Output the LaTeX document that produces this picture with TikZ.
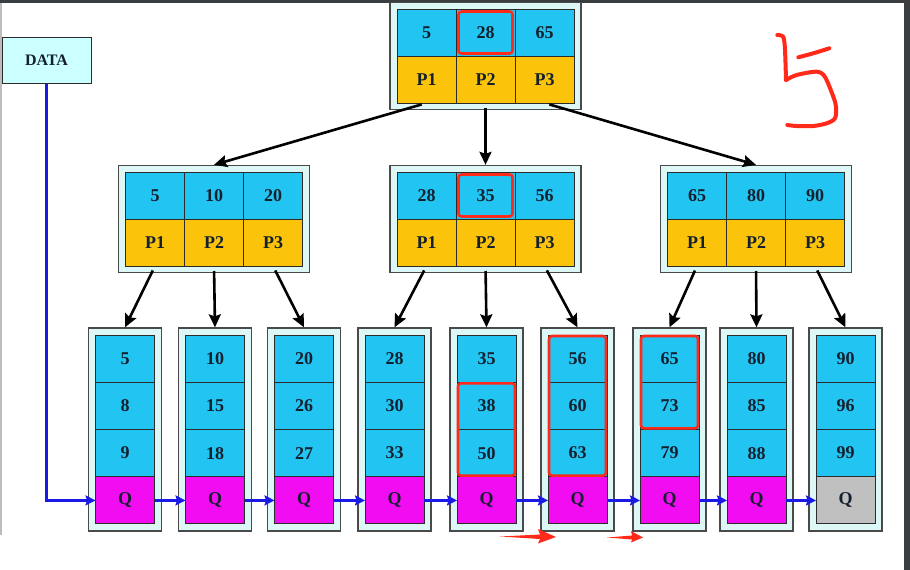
\documentclass[tikz,border=0pt]{standalone}
\usepackage{fontspec}
\setmainfont{Liberation Serif}
\usepackage{xcolor}
\usepackage{tikz}
\usetikzlibrary{arrows.meta,fit}
\definecolor{keyblue}{HTML}{22C4F2}
\definecolor{ptryellow}{HTML}{FBC40A}
\definecolor{qpink}{HTML}{F20CF2}
\definecolor{qgray}{HTML}{C0C0C0}
\definecolor{framecyan}{HTML}{DDF7F7}
\definecolor{framegray}{HTML}{4A4A4A}
\definecolor{cellline}{HTML}{2B2B2B}
\definecolor{celltext}{HTML}{14202E}
\definecolor{datacyan}{HTML}{CCFFFF}
\definecolor{linkblue}{HTML}{1A1AE6}
\definecolor{markred}{HTML}{FF2A1A}
\definecolor{edgedark}{HTML}{3A3D40}
\definecolor{edgegray}{HTML}{BDBDBD}

\tikzset{
  frame/.style={draw=framegray, fill=framecyan, line width=1.3pt, inner sep=0pt},
  cell/.style={draw=cellline, line width=0.9pt, minimum width=59pt, minimum height=47pt,
               inner sep=0pt, outer sep=0pt, text=celltext, font=\bfseries\fontsize{18}{20}\selectfont},
  keycell/.style={cell, fill=keyblue},
  ptrcell/.style={cell, fill=ptryellow},
  treearrow/.style={-{Stealth[length=13pt,width=12pt,inset=2pt]}, line width=2.6pt, shorten <=5pt},
  leaflink/.style={-{Stealth[length=10pt,width=10pt,inset=1.5pt]}, line width=2.4pt, draw=linkblue},
  redbox/.style={draw=markred, line width=2.6pt, rounded corners=3pt, inner sep=0pt}
}

\begin{document}
\begin{tikzpicture}[x=1pt,y=-1pt]
  \useasboundingbox (0,0) rectangle (910,570);
  % edges of the screenshot
  \fill[edgedark] (0,0) rectangle (910,3);
  \fill[edgedark] (904,0) rectangle (910,570);
  \fill[edgegray] (0,3) rectangle (1.5,535);

  \node[draw=cellline, fill=datacyan, line width=1pt, minimum width=89pt, minimum height=46pt,
        text=celltext, font=\bfseries\fontsize{16}{18}\selectfont] (data) at (46.5,60) {DATA};

  % root and second level
  \foreach \n/\x/\y/\a/\b/\c in {r/485.5/32.5/5/28/65, ma/214/195.5/5/10/20,
                                 mb/485.5/195.5/28/35/56, mc/756/195.5/65/80/90}{
    \node[frame, minimum width=191pt, minimum height=107pt] (\n) at (\x,\y+23.5) {};
    \node[keycell] (\n-k1) at (\x-59,\y) {\a};
    \node[keycell] (\n-k2) at (\x,\y) {\b};
    \node[keycell] (\n-k3) at (\x+59,\y) {\c};
    \node[ptrcell] (\n-p1) at (\x-59,\y+47) {P1};
    \node[ptrcell] (\n-p2) at (\x,\y+47) {P2};
    \node[ptrcell] (\n-p3) at (\x+59,\y+47) {P3};
  }

  % leaves
  \foreach \i/\x/\a/\b/\c/\q in {1/125/5/8/9/qpink, 2/215/10/15/18/qpink, 3/304/20/26/27/qpink,
                                 4/394.5/28/30/33/qpink, 5/486.5/35/38/50/qpink, 6/577.5/56/60/63/qpink,
                                 7/669.5/65/73/79/qpink, 8/756.5/80/85/88/qpink, 9/845.5/90/96/99/qgray}{
    \node[frame, minimum width=73pt, minimum height=203pt] (l\i) at (\x,429.5) {};
    \node[keycell] (l\i-a) at (\x,358.5) {\a};
    \node[keycell] (l\i-b) at (\x,405.8) {\b};
    \node[keycell] (l\i-c) at (\x,453.1) {\c};
    \node[cell, fill=\q] (l\i-q) at (\x,500.4) {Q};
  }

  % tree pointers
  \draw[treearrow] (r-p1.south) -- (ma.north);
  \draw[treearrow] (r-p2.south) -- (mb.north);
  \draw[treearrow] (r-p3.south) -- (mc.north);
  \foreach \m/\i/\j/\k in {ma/1/2/3, mb/4/5/6, mc/7/8/9}{
    \draw[treearrow] (\m-p1.south) -- (l\i.north);
    \draw[treearrow] (\m-p2.south) -- (l\j.north);
    \draw[treearrow] (\m-p3.south) -- (l\k.north);
  }

  % leaf chain
  \draw[leaflink] (data.south) |- (l1-q.west);
  \foreach \i [evaluate=\i as \j using int(\i+1)] in {1,...,8}
    \draw[leaflink] (l\i-q.east) -- (l\j-q.west);

  % red marks
  \node[redbox, fit=(r-k2), inner sep=-2.5pt] (hl1) {};
  \node[redbox, fit=(mb-k2), inner sep=-2.5pt] (hl2) {};
  \node[redbox, fit=(l5-b)(l5-c), inner sep=-1pt] (hl3) {};
  \node[redbox, fit=(l6-a)(l6-c), inner sep=-1pt] (hl4) {};
  \node[redbox, fit=(l7-a)(l7-b), inner sep=-1pt] (hl5) {};
  \fill[markred] (500,536.5) -- (540,534.5) -- (538,529) -- (556,537) -- (538,543.5) -- (540,539) -- cycle;
  \fill[markred] (607,537.5) -- (632,535.5) -- (631,531) -- (643,537.5) -- (631,542.5) -- (632,539.5) -- cycle;
  \draw[markred, line width=4pt, line cap=round, line join=round]
    plot[smooth] coordinates {(777.3,35) (783.3,37) (785,50) (786,80)};
  \draw[markred, line width=4pt, line cap=round, line join=round]
    plot[smooth] coordinates {(786,80) (796.7,75) (816.7,71.7) (825,77) (833.3,96.7) (836,106.7)
                              (835,118.3) (826.7,123.3) (813.3,126) (796.7,126) (787.3,125)};
  \draw[markred, line width=4pt, line cap=round, line join=round]
    plot[smooth] coordinates {(798.3,57.3) (813.3,53.3) (829.3,48.3)};
\end{tikzpicture}
\end{document}
